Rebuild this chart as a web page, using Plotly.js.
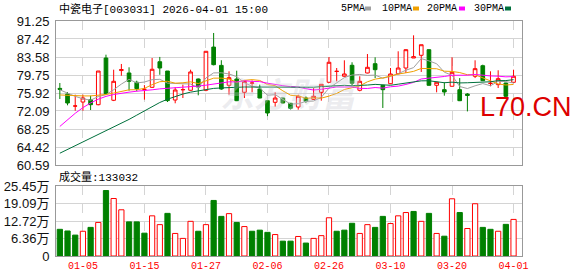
<!DOCTYPE html>
<html>
<head>
<meta charset="utf-8">
<script src="https://cdn.plot.ly/plotly-3.0.1.min.js"></script>
<style>
html,body{margin:0;padding:0;background:#fff;}
#chart{width:578px;height:276px;}
</style>
</head>
<body>
<div id="chart"></div>
<script>
// ---------------- data ----------------
const dates = ['12-29','12-30','12-31','01-05','01-06','01-07','01-08','01-09','01-12','01-13',
  '01-14','01-15','01-16','01-19','01-20','01-21','01-22','01-23','01-26','01-27',
  '01-28','01-29','01-30','02-02','02-03','02-04','02-05','02-06','02-09','02-10',
  '02-11','02-12','02-13','02-24','02-25','02-26','02-27','03-02','03-03','03-04',
  '03-05','03-06','03-09','03-10','03-11','03-12','03-13','03-16','03-17','03-18',
  '03-19','03-20','03-23','03-24','03-25','03-26','03-27','03-30','03-31','04-01'];

const opens = [76.9,75.71,73.15,74.0,74.49,73.43,83.37,74.37,80.7,80.18,
  78.2,76.7,77.13,82.58,80.6,74.43,76.6,76.5,78.9,76.5,
  85.7,81.8,77.56,78.9,76.07,78.0,76.77,74.28,73.94,74.85,
  73.73,72.94,74.85,74.58,76.07,78.2,80.5,79.48,81.82,76.5,
  80.18,82.16,77.56,77.9,80.03,81.24,83.37,83.95,85.14,77.56,
  76.63,77.35,76.63,75.7,79.48,81.73,77.95,77.7,78.05,78.2];

const highs = [78.05,76.13,75.56,75.56,75.35,80.6,84.08,80.88,82.1,81.39,
  78.54,77.6,83.37,83.6,80.6,77.13,77.7,80.88,79.0,84.8,
  88.7,82.9,80.54,80.67,78.5,78.6,77.7,74.3,76.07,74.9,
  73.8,75.56,75.2,76.98,77.8,83.58,81.24,82.88,82.46,79.48,
  84.22,83.52,77.6,81.24,84.8,85.2,88.2,86.2,85.2,78.2,
  78.2,83.52,79.1,75.9,82.88,81.95,80.54,80.76,78.1,80.88];

const lows = [74.64,73.3,72.15,72.15,72.3,73.3,75.56,74.2,79.6,76.41,
  76.28,74.5,77.0,79.8,74.0,73.73,74.85,76.41,75.43,76.3,
  81.8,76.6,75.56,74.2,74.85,76.07,74.8,71.0,73.0,73.7,
  72.4,72.37,73.8,74.5,74.28,78.1,78.4,79.4,77.56,76.28,
  80.1,79.1,72.73,77.8,79.9,80.18,83.37,80.4,77.5,76.07,
  75.35,77.3,74.2,72.0,79.1,78.5,77.35,76.98,74.85,78.1];

const closes = [76.7,73.79,73.15,74.86,73.43,80.6,75.77,78.41,80.9,78.41,
  76.85,76.7,80.97,81.24,74.3,76.56,76.65,80.4,77.2,84.8,
  81.95,76.77,79.18,74.28,78.41,78.05,74.85,71.66,74.85,73.8,
  72.66,75.22,74.15,75.22,77.77,82.46,80.54,79.97,77.99,78.41,
  81.39,80.88,76.63,79.97,81.24,85.14,83.65,86.2,77.56,78.2,
  76.14,80.33,74.28,75.4,81.1,78.54,77.99,78.97,75.22,79.48];

// volume in 万 (10k)
const volumes = [9.7,9.1,7.6,9.0,10.4,12.2,23.8,20.9,16.8,12.4,
  12.4,8.3,14.6,11.4,15.5,8.2,6.4,12.6,9.0,11.4,
  20.2,14.4,15.4,12.2,10.7,9.0,9.4,8.6,7.8,5.4,
  5.4,7.1,4.7,6.4,7.4,13.9,9.0,9.4,11.9,8.2,
  11.4,10.4,14.4,11.8,14.6,15.8,16.2,12.6,15.5,8.2,
  7.2,20.8,15.8,10.0,19.0,10.4,9.7,9.0,11.5,13.3032];

const ma5Lead  = [76.6,75.9,75.2,74.7];
const ma10Lead = [75.5,75.4,75.3,75.3,75.3,75.4,75.6,75.9,76.2];
const ma20Lead = [68.8,70.3,71.6,72.8,73.8,74.6,75.2,75.6,75.9,76.1,
  76.3,76.4,76.6,76.8,76.9,77.0,77.1,77.3,77.4];
const ma30Lead = [63.1,63.9,64.7,65.4,66.2,67.0,67.8,68.6,69.5,70.3,
  71.2,72.1,73.0,73.9,74.6,75.2,75.7,76.1,76.4,76.7,
  76.9,77.0,77.1,77.2,77.2,77.2,77.2,77.2,77.2];

const priceTicks = [60.59,64.42,68.25,72.09,75.92,79.75,83.58,87.42,91.25];
const volTicks = [0,6.36,12.72,19.09,25.45];
const volTickText = ['0','6.36万','12.72万','19.09万','25.45万'];
const dateTicks = ['01-05','01-15','01-27','02-06','02-26','03-10','03-20','04-01'];
const maNames = ['5PMA','10PMA','20PMA','30PMA'];
const titleText = '中瓷电子[003031] 2026-04-01 15:00';
const volTitle = '成交量:133032';

// ---------------- derived ----------------
function movingAvg(n, lead){
  return closes.map((c,i)=>{
    if(i < n-1) return lead[i];
    let s = 0; for(let k=i-n+1;k<=i;k++) s += closes[k];
    return s/n;
  });
}
const ma5 = movingAvg(5, ma5Lead), ma10 = movingAvg(10, ma10Lead),
      ma20 = movingAvg(20, ma20Lead), ma30 = movingAvg(30, ma30Lead);

const RED = '#ff0000', GREEN = '#008000';
const upIdx = [], dnIdx = [];
closes.forEach((c,i)=>{ (c >= opens[i] ? upIdx : dnIdx).push(i); });
const pick = (arr, idx) => idx.map(i=>arr[i]);

const volUp = closes.map((c,i)=> i===0 ? c>opens[i] : c>closes[i-1]);
const volFill = volUp.map(u=> u ? '#ffffff' : GREEN);
const volLine = volUp.map(u=> u ? RED : GREEN);

const maColors = ['#a0a0a0','#f0a000','#ff00ff','#00703c'];

function candle(idx, color, fill){
  const st = {line:{color:color,width:1}, fillcolor:fill};
  return {type:'candlestick', x:pick(dates,idx), open:pick(opens,idx), high:pick(highs,idx),
    low:pick(lows,idx), close:pick(closes,idx), increasing:st, decreasing:st,
    whiskerwidth:0, hoverinfo:'skip', xaxis:'x', yaxis:'y'};
}
const traces = [
  candle(upIdx, RED, '#ffffff'),
  candle(dnIdx, GREEN, GREEN)
];
[ma5,ma10,ma20,ma30].forEach((m,k)=>{
  traces.push({type:'scatter', mode:'lines', x:dates, y:m, xaxis:'x', yaxis:'y',
    line:{color:maColors[k], width:1}, hoverinfo:'skip'});
});
traces.push({type:'bar', x:dates, y:volumes, xaxis:'x2', yaxis:'y2',
  marker:{color:volFill, line:{color:volLine, width:1}}, hoverinfo:'skip'});

// ---------------- layout ----------------
const L = 56, R = 522, T = 21, B = 256;
const PX = x => (x - L)/(R - L);
const PY = y => (B - y)/(B - T);

const gridC = '#d4d4d4', boxC = '#999999';
const sans = 'Liberation Sans, Arial, Noto Sans CJK SC, sans-serif';
const mono = 'Liberation Mono, Noto Sans CJK SC, monospace';

const xBase = {type:'category', categoryorder:'array', categoryarray:dates,
  range:[-0.5, 60.1], tickvals:dateTicks, showgrid:true, gridcolor:gridC, griddash:'dash',
  gridwidth:1, showline:true, mirror:true, linecolor:boxC, linewidth:1, ticks:'',
  zeroline:false, fixedrange:true, rangeslider:{visible:false}};

const annotations = [
  {text:titleText, xref:'paper', yref:'paper', x:PX(57), y:PY(9), xanchor:'left', yanchor:'middle',
   showarrow:false, font:{family:mono, size:11, color:'#000'}},
  {text:volTitle, xref:'paper', yref:'paper', x:PX(57), y:PY(177), xanchor:'left', yanchor:'middle',
   showarrow:false, font:{family:mono, size:11, color:'#000'}},
  {text:'L70.CN', xref:'paper', yref:'paper', x:PX(574), y:PY(107), xanchor:'right', yanchor:'middle',
   showarrow:false, font:{family:sans, size:27, color:'#dd0000'}},
  {text:'<b><i>东方财富</i></b>', xref:'paper', yref:'paper', x:PX(290), y:PY(92), xanchor:'center', yanchor:'middle',
   showarrow:false, font:{family:'Noto Sans CJK SC', size:34, color:'rgba(200,200,210,0.35)'}}
];
const shapes = [];
const legendX = [339, 380, 425, 472];
const chipX = [365, 413, 459, 505];
maNames.forEach((n,k)=>{
  annotations.push({text:n, xref:'paper', yref:'paper', x:PX(legendX[k]), y:PY(9), xanchor:'left', yanchor:'middle',
    showarrow:false, font:{family:mono, size:10, color:'#000'}});
  shapes.push({type:'rect', xref:'paper', yref:'paper', x0:PX(chipX[k]), x1:PX(chipX[k]+6),
    y0:PY(10.5), y1:PY(6.5), fillcolor:maColors[k], line:{width:0}});
});

const layout = {
  width:578, height:276,
  margin:{l:L, r:578-R, t:T, b:276-B, pad:0},
  paper_bgcolor:'#ffffff', plot_bgcolor:'#ffffff',
  showlegend:false, boxgap:0.32, bargap:0.32, hovermode:false,
  xaxis: Object.assign({}, xBase, {anchor:'y', showticklabels:false}),
  xaxis2: Object.assign({}, xBase, {anchor:'y2', showticklabels:true,
    tickfont:{family:mono, size:10, color:RED}}),
  yaxis:{domain:[PY(165),1], range:[60.59,91.25], tickvals:priceTicks, tickformat:'.2f',
    showgrid:true, gridcolor:gridC, showline:true, mirror:true, linecolor:boxC, linewidth:1,
    ticks:'', zeroline:false, fixedrange:true, ticklabelstandoff:3,
    tickfont:{family:sans, size:13, color:'#111'}},
  yaxis2:{domain:[0,PY(186)], range:[0,25.45], tickvals:volTicks, ticktext:volTickText,
    showgrid:true, gridcolor:gridC, showline:true, mirror:true, linecolor:boxC, linewidth:1,
    ticks:'', zeroline:false, fixedrange:true, ticklabelstandoff:3,
    tickfont:{family:sans, size:13, color:'#111'}},
  annotations, shapes
};

Plotly.newPlot('chart', traces, layout, {displayModeBar:false, staticPlot:true});
</script>
</body>
</html>
